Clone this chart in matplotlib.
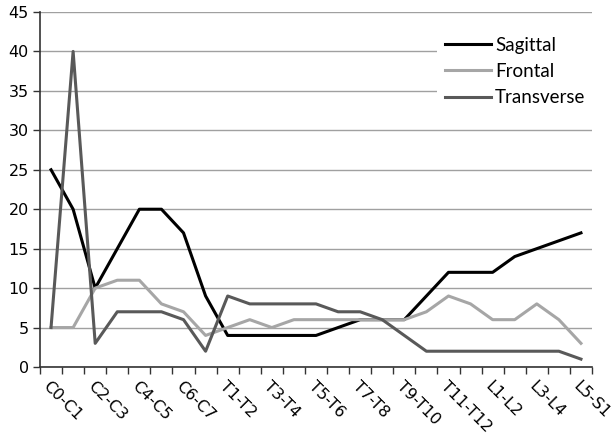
import matplotlib
matplotlib.use('Agg')
import matplotlib.pyplot as plt
import numpy as np

# segment levels along the spine
segments = ['C0-C1', 'C1-C2', 'C2-C3', 'C3-C4', 'C4-C5', 'C5-C6', 'C6-C7', 'C7-T1',
            'T1-T2', 'T2-T3', 'T3-T4', 'T4-T5', 'T5-T6', 'T6-T7', 'T7-T8', 'T8-T9',
            'T9-T10', 'T10-T11', 'T11-T12', 'T12-L1', 'L1-L2', 'L2-L3', 'L3-L4',
            'L4-L5', 'L5-S1']

sagittal = [25, 20, 10, 15, 20, 20, 17, 9, 4, 4, 4, 4, 4, 5, 6, 6, 6, 9, 12, 12, 12, 14, 15, 16, 17]
frontal = [5, 5, 10, 11, 11, 8, 7, 4, 5, 6, 5, 6, 6, 6, 6, 6, 6, 7, 9, 8, 6, 6, 8, 6, 3]
transverse = [5, 40, 3, 7, 7, 7, 6, 2, 9, 8, 8, 8, 8, 7, 7, 6, 4, 2, 2, 2, 2, 2, 2, 2, 1]

W, H = 614, 445
fig = plt.figure(figsize=(W / 100, H / 100), dpi=100)
ax = fig.add_axes([40 / W, 1 - 367 / H, 552 / W, 355 / H])

x = np.arange(len(segments))
ax.plot(x, sagittal, color='black', lw=2.2, label='Sagittal', zorder=3)
ax.plot(x, frontal, color='#a6a6a6', lw=2.2, label='Frontal', zorder=3)
ax.plot(x, transverse, color='#595959', lw=2.2, label='Transverse', zorder=3)

ax.set_xlim(-0.5, len(segments) - 0.5)
ax.set_ylim(0, 45)
ax.set_yticks(range(0, 46, 5))
ax.yaxis.grid(True, color='#a0a0a0', lw=1)
ax.set_axisbelow(True)

# ticks between categories, labels on every other segment
ax.set_xticks(np.arange(-0.5, len(segments), 1))
ax.set_xticklabels([])
ax.set_xticks(x[::2], minor=True)
ax.set_xticklabels(segments[::2], minor=True, rotation=-45, ha='left', va='top',
                   rotation_mode='anchor', fontsize=11.5)
ax.tick_params(axis='x', which='major', length=5, width=1, color='#333333')
ax.tick_params(axis='x', which='minor', length=0, pad=8)
ax.tick_params(axis='y', length=5, width=1, color='#333333', labelsize=11.5, pad=3)

for s in ['top', 'right']:
    ax.spines[s].set_visible(False)
for s in ['left', 'bottom']:
    ax.spines[s].set_color('#333333')
    ax.spines[s].set_linewidth(1.2)

leg = ax.legend(loc='upper left', bbox_to_anchor=(437 / W, 1 - 29 / H),
                bbox_transform=fig.transFigure, frameon=True, fancybox=False,
                borderaxespad=0, borderpad=0.4, handlelength=2.5, handletextpad=0.2,
                labelspacing=0.5, prop={'family': 'Lato', 'size': 13.5})
leg.get_frame().set_facecolor('white')
leg.get_frame().set_edgecolor('none')
leg.get_frame().set_alpha(1)
leg.set_zorder(5)

fig.savefig('out.png', dpi=100)
